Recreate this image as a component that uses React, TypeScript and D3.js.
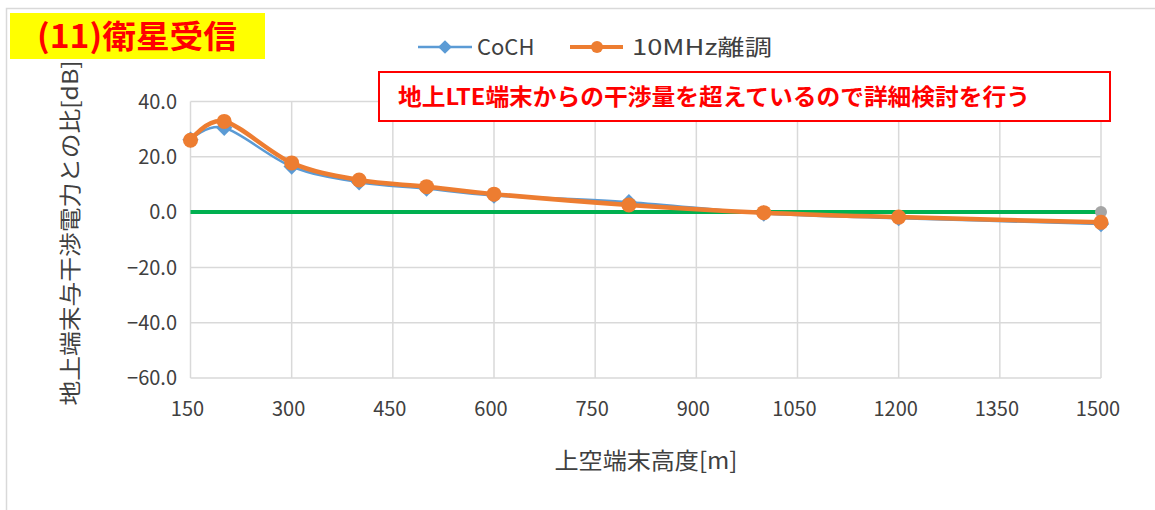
import React, { useEffect, useRef } from "react";
import * as d3 from "d3";

// heights of the airborne terminal [m]
const heights = [150, 200, 300, 400, 500, 600, 800, 1000, 1200, 1500];
// ratio to the ground terminal interference power [dB]
const cochValues = [26.2, 30.5, 16.5, 10.8, 8.5, 6.0, 3.6, -0.5, -2.2, -4.3];
const mhz10Values = [26.0, 32.8, 17.8, 11.6, 9.2, 6.5, 2.6, -0.2, -1.8, -3.7];
// threshold line (0 dB)
const thresholdX = [150, 1500];
const thresholdValues = [0, 0];

const xTicks = [150, 300, 450, 600, 750, 900, 1050, 1200, 1350, 1500];
const yTicks = [-60, -40, -20, 0, 20, 40];

const seriesNames = ["CoCH", "10MHz離調"];

const FONT = "'Noto Sans CJK JP', 'Noto Sans', sans-serif";

const App: React.FC = () => {
  const svgRef = useRef<SVGSVGElement>(null);

  useEffect(() => {
    if (!svgRef.current) return;
    const svg = d3.select(svgRef.current);
    svg.selectAll("*").remove();

    const width = 1155;
    const height = 510;
    const plot = { left: 190.5, right: 1101, top: 101.5, bottom: 378 };

    // outer frame (only top and left visible)
    svg
      .append("rect")
      .attr("x", 6.5)
      .attr("y", 8.5)
      .attr("width", width + 10)
      .attr("height", height + 10)
      .attr("fill", "#fff")
      .attr("stroke", "#d9d9d9")
      .attr("stroke-width", 1.5);

    const x = d3.scaleLinear().domain([150, 1500]).range([plot.left, plot.right]);
    const y = d3.scaleLinear().domain([-60, 40]).range([plot.bottom, plot.top]);

    // gridlines
    const grid = svg.append("g");
    grid
      .selectAll(".vgrid")
      .data(xTicks)
      .enter()
      .append("line")
      .attr("x1", (d) => x(d))
      .attr("x2", (d) => x(d))
      .attr("y1", plot.top)
      .attr("y2", plot.bottom)
      .attr("stroke", "#d9d9d9")
      .attr("stroke-width", 1.5);
    grid
      .selectAll(".hgrid")
      .data(yTicks)
      .enter()
      .append("line")
      .attr("x1", plot.left)
      .attr("x2", plot.right)
      .attr("y1", (d) => y(d))
      .attr("y2", (d) => y(d))
      .attr("stroke", "#d9d9d9")
      .attr("stroke-width", 1.5);

    // y tick labels
    svg
      .append("g")
      .selectAll("text")
      .data(yTicks)
      .enter()
      .append("text")
      .attr("x", 177)
      .attr("y", (d) => y(d))
      .attr("dy", "0.36em")
      .attr("text-anchor", "end")
      .style("font-family", FONT)
      .style("font-size", "20px")
      .style("fill", "#404040")
      .text((d) => d3.format(".1f")(d));

    // x tick labels
    svg
      .append("g")
      .selectAll("text")
      .data(xTicks)
      .enter()
      .append("text")
      .attr("x", (d) => x(d) - 3)
      .attr("y", 409)
      .attr("dy", "0.36em")
      .attr("text-anchor", "middle")
      .style("font-family", FONT)
      .style("font-size", "20px")
      .style("fill", "#404040")
      .text((d) => d);

    // axis titles
    svg
      .append("text")
      .attr("transform", `translate(70, 233) rotate(-90)`)
      .attr("text-anchor", "middle")
      .attr("dy", "0.36em")
      .attr("textLength", 345)
      .attr("lengthAdjust", "spacingAndGlyphs")
      .style("font-family", FONT)
      .style("font-size", "22px")
      .style("fill", "#404040")
      .text("地上端末与干渉電力との比[dB]");

    svg
      .append("text")
      .attr("x", 646)
      .attr("y", 461)
      .attr("dy", "0.36em")
      .attr("text-anchor", "middle")
      .attr("textLength", 183)
      .attr("lengthAdjust", "spacingAndGlyphs")
      .style("font-family", FONT)
      .style("font-size", "23px")
      .style("fill", "#404040")
      .text("上空端末高度[m]");

    // threshold line
    const thrData = thresholdX.map((h, i) => ({ h, v: thresholdValues[i] }));
    svg
      .append("path")
      .datum(thrData)
      .attr("fill", "none")
      .attr("stroke", "#00b050")
      .attr("stroke-width", 4)
      .attr(
        "d",
        d3
          .line<{ h: number; v: number }>()
          .x((d) => x(d.h))
          .y((d) => y(d.v))
      );
    svg
      .append("circle")
      .attr("cx", x(thrData[thrData.length - 1].h))
      .attr("cy", y(thrData[thrData.length - 1].v))
      .attr("r", 6)
      .attr("fill", "#a5a5a5");

    const line = d3
      .line<{ h: number; v: number }>()
      .x((d) => x(d.h))
      .y((d) => y(d.v))
      .curve(d3.curveCardinal.tension(0));

    // CoCH series
    const cochData = heights.map((h, i) => ({ h, v: cochValues[i] }));
    svg
      .append("path")
      .datum(cochData)
      .attr("fill", "none")
      .attr("stroke", "#5b9bd5")
      .attr("stroke-width", 2.5)
      .attr("d", line);
    const diamond = d3.symbol().type(d3.symbolDiamond2).size(170);
    svg
      .append("g")
      .selectAll("path")
      .data(cochData)
      .enter()
      .append("path")
      .attr("transform", (d) => `translate(${x(d.h)}, ${y(d.v)})`)
      .attr("d", diamond)
      .attr("fill", "#5b9bd5");

    // 10MHz series
    const mhzData = heights.map((h, i) => ({ h, v: mhz10Values[i] }));
    svg
      .append("path")
      .datum(mhzData)
      .attr("fill", "none")
      .attr("stroke", "#ed7d31")
      .attr("stroke-width", 4.5)
      .attr("d", line);
    svg
      .append("g")
      .selectAll("circle")
      .data(mhzData)
      .enter()
      .append("circle")
      .attr("cx", (d) => x(d.h))
      .attr("cy", (d) => y(d.v))
      .attr("r", 7.5)
      .attr("fill", "#ed7d31");

    // legend
    const legend = svg.append("g");
    legend
      .append("line")
      .attr("x1", 418)
      .attr("x2", 472)
      .attr("y1", 47)
      .attr("y2", 47)
      .attr("stroke", "#5b9bd5")
      .attr("stroke-width", 2.5);
    legend
      .append("path")
      .attr("transform", "translate(445, 47)")
      .attr("d", d3.symbol().type(d3.symbolDiamond2).size(120))
      .attr("fill", "#5b9bd5");
    legend
      .append("text")
      .attr("x", 477)
      .attr("y", 47)
      .attr("dy", "0.36em")
      .style("font-family", FONT)
      .style("font-size", "22px")
      .style("fill", "#404040")
      .text(seriesNames[0]);
    legend
      .append("line")
      .attr("x1", 570)
      .attr("x2", 623)
      .attr("y1", 47)
      .attr("y2", 47)
      .attr("stroke", "#ed7d31")
      .attr("stroke-width", 4);
    legend
      .append("circle")
      .attr("cx", 597)
      .attr("cy", 47)
      .attr("r", 6)
      .attr("fill", "#ed7d31");
    legend
      .append("text")
      .attr("x", 632)
      .attr("y", 47)
      .attr("dy", "0.36em")
      .attr("textLength", 140)
      .attr("lengthAdjust", "spacingAndGlyphs")
      .style("font-family", FONT)
      .style("font-size", "22px")
      .style("fill", "#404040")
      .text(seriesNames[1]);

    // title
    svg
      .append("rect")
      .attr("x", 10)
      .attr("y", 13)
      .attr("width", 255)
      .attr("height", 46)
      .attr("fill", "#ffff00");
    svg
      .append("text")
      .attr("x", 37)
      .attr("y", 36)
      .attr("dy", "0.36em")
      .attr("textLength", 200)
      .attr("lengthAdjust", "spacingAndGlyphs")
      .style("font-family", FONT)
      .style("font-size", "32px")
      .style("font-weight", "bold")
      .style("fill", "#ff0000")
      .text("(11)衛星受信");

    // annotation box
    svg
      .append("rect")
      .attr("x", 379)
      .attr("y", 72)
      .attr("width", 731)
      .attr("height", 49)
      .attr("fill", "#fff")
      .attr("stroke", "#ff0000")
      .attr("stroke-width", 2);
    svg
      .append("text")
      .attr("x", 398)
      .attr("y", 97)
      .attr("dy", "0.36em")
      .attr("textLength", 632)
      .attr("lengthAdjust", "spacingAndGlyphs")
      .style("font-family", FONT)
      .style("font-size", "23px")
      .style("font-weight", "bold")
      .style("fill", "#ff0000")
      .text("地上LTE端末からの干渉量を超えているので詳細検討を行う");
  }, []);

  return (
    <div style={{ position: "absolute", left: 0, top: 0 }}>
      <svg ref={svgRef} width={1155} height={510} style={{ display: "block" }} />
    </div>
  );
};

export default App;
